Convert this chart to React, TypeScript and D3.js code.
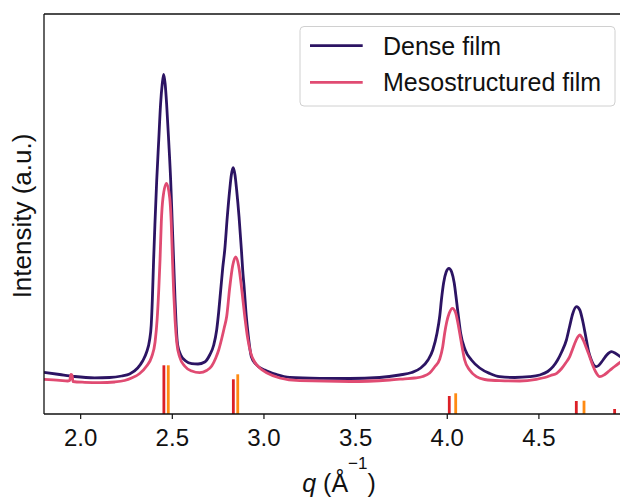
import React from "react";
import * as d3 from "d3";

// Dense film trace: q (Å^-1), intensity (a.u.)
const denseQ = [1.8, 1.885, 1.967, 2.076, 2.158, 2.224, 2.267, 2.311, 2.338, 2.36, 2.376, 2.385, 2.391, 2.398, 2.405, 2.415, 2.426, 2.436, 2.445, 2.453, 2.461, 2.469, 2.48, 2.491, 2.5, 2.507, 2.515, 2.521, 2.529, 2.546, 2.573, 2.606, 2.64, 2.677, 2.704, 2.726, 2.742, 2.753, 2.764, 2.775, 2.786, 2.8, 2.813, 2.822, 2.832, 2.842, 2.851, 2.864, 2.877, 2.884, 2.893, 2.903, 2.914, 2.931, 2.955, 3.004, 3.069, 3.14, 3.304, 3.468, 3.631, 3.74, 3.806, 3.855, 3.895, 3.921, 3.944, 3.959, 3.968, 3.98, 3.994, 4.009, 4.024, 4.038, 4.05, 4.062, 4.073, 4.098, 4.132, 4.177, 4.232, 4.286, 4.368, 4.45, 4.504, 4.548, 4.577, 4.602, 4.624, 4.65, 4.668, 4.684, 4.705, 4.723, 4.739, 4.759, 4.772, 4.786, 4.799, 4.813, 4.826, 4.848, 4.87, 4.896, 4.919, 4.946];
const denseI = [41.7, 39.5, 37.5, 36.2, 36.5, 38, 40, 46, 53, 62, 74, 89, 114, 154, 189, 234, 274, 310, 330, 339.7, 330, 310, 274, 234, 189, 154, 114, 89, 69, 59, 53, 50.4, 50, 52, 59, 69, 84, 102, 124, 146, 164, 197.3, 224, 239, 246.3, 239, 224, 197.3, 164, 144, 124, 99, 79, 57.3, 50, 44, 39.5, 36.7, 35.7, 35.5, 36.5, 39, 41.5, 46, 54, 64, 80.7, 98, 114, 131, 142, 145.7, 142, 131, 114, 96, 80.7, 64, 54, 46, 40.5, 37.3, 36.5, 37.3, 39, 42.5, 47.3, 54, 62, 74, 88, 100, 107.3, 104, 93, 74, 62, 54, 49, 47.3, 48.5, 53.5, 59, 62.3, 60.5, 57];

// Mesostructured film trace
const mesoQ = [1.8, 1.885, 1.929, 1.94, 1.947, 1.953, 1.958, 2.022, 2.104, 2.186, 2.24, 2.278, 2.322, 2.36, 2.387, 2.406, 2.417, 2.426, 2.433, 2.44, 2.449, 2.468, 2.486, 2.494, 2.501, 2.507, 2.515, 2.524, 2.54, 2.567, 2.606, 2.649, 2.687, 2.715, 2.737, 2.753, 2.769, 2.783, 2.797, 2.813, 2.829, 2.846, 2.862, 2.878, 2.895, 2.911, 2.928, 2.949, 2.977, 3.02, 3.086, 3.195, 3.468, 3.686, 3.768, 3.822, 3.866, 3.904, 3.931, 3.959, 3.975, 3.986, 3.997, 4.011, 4.028, 4.046, 4.057, 4.068, 4.082, 4.095, 4.122, 4.159, 4.204, 4.286, 4.395, 4.486, 4.532, 4.564, 4.597, 4.624, 4.646, 4.668, 4.684, 4.701, 4.712, 4.723, 4.733, 4.744, 4.761, 4.777, 4.793, 4.81, 4.832, 4.859, 4.886, 4.913, 4.946];
const mesoI = [34.7, 33.7, 33, 33.5, 39.5, 39, 32.5, 31.7, 31.3, 32, 33.5, 36, 40.5, 48, 57, 72, 94, 124, 154, 192, 216, 230.7, 216, 192, 154, 124, 94, 72, 57, 48, 43, 41.3, 43.5, 48, 56, 64, 75, 86, 98, 126, 148, 157, 148, 126, 98, 76, 61, 52, 46, 40.7, 36, 33.3, 32.5, 34, 35.2, 36, 37.5, 41, 47, 55, 67, 81, 92, 101, 105.7, 101, 92, 80.7, 66, 54, 44, 37.3, 34.5, 33.3, 33, 34.7, 36.5, 38.5, 40.7, 45.5, 51, 57.3, 65, 73, 77, 79, 77, 73, 65, 57.3, 49, 42, 37.3, 39.5, 43.5, 47.5, 52];

// Reference reflections (two phases)
const refRedQ = [2.454, 2.833, 4.011, 4.704, 4.913];
const refRedI = [48.7, 34.7, 18, 13, 5];
const refOrangeQ = [2.478, 2.857, 4.046, 4.746];
const refOrangeI = [48.7, 39.7, 20.7, 13.3];

const xTicks = [2.0, 2.5, 3.0, 3.5, 4.0, 4.5];
const seriesNames = ["Dense film", "Mesostructured film"];

const W = 620;
const H = 500;
const left = 44;
const top = 14;
const bottom = 414;
const right = 621.4;

const darkColor = "#2c1463";
const pinkColor = "#e04b72";
const redColor = "#dc2027";
const orangeColor = "#ff8a12";
const font = "'Liberation Sans', Arial, sans-serif";

export default function App() {
  const x = d3.scaleLinear().domain([1.8, 4.95]).range([left, right]);
  const y = d3.scaleLinear().domain([0, 400]).range([bottom, top]);
  const line = d3
    .line<[number, number]>()
    .x((d) => x(d[0]))
    .y((d) => y(d[1]))
    .curve(d3.curveMonotoneX);
  const dense = denseQ.map((q, i) => [q, denseI[i]] as [number, number]);
  const meso = mesoQ.map((q, i) => [q, mesoI[i]] as [number, number]);

  return (
    <svg
      width={W}
      height={H}
      style={{ position: "absolute", left: 0, top: 0, background: "#fff" }}
      fontFamily={font}
    >
      <defs>
        <clipPath id="plotclip">
          <rect x={left} y={top} width={right - left} height={bottom - top} />
        </clipPath>
      </defs>
      <rect x={0} y={0} width={W} height={H} fill="#fff" />
      <g clipPath="url(#plotclip)">
        {refRedQ.map((q, i) => (
          <rect
            key={"r" + i}
            x={x(q) - 1.4}
            y={y(refRedI[i])}
            width={2.8}
            height={bottom - y(refRedI[i])}
            fill={redColor}
          />
        ))}
        {refOrangeQ.map((q, i) => (
          <rect
            key={"o" + i}
            x={x(q) - 1.4}
            y={y(refOrangeI[i])}
            width={2.8}
            height={bottom - y(refOrangeI[i])}
            fill={orangeColor}
          />
        ))}
        <path d={line(dense) || ""} fill="none" stroke={darkColor} strokeWidth={2.8} />
        <path d={line(meso) || ""} fill="none" stroke={pinkColor} strokeWidth={2.8} />
      </g>
      {/* spines */}
      <line x1={left} y1={top} x2={left} y2={bottom} stroke="#111" strokeWidth={1.3} />
      <line x1={left} y1={bottom} x2={W} y2={bottom} stroke="#111" strokeWidth={1.3} />
      <line x1={left} y1={top} x2={W} y2={top} stroke="#111" strokeWidth={1.3} />
      {xTicks.map((t) => (
        <g key={t} transform={`translate(${x(t)},${bottom})`}>
          <line y1={0} y2={5} stroke="#111" strokeWidth={1.2} />
          <text y={32} textAnchor="middle" fontSize={24} fill="#111">
            {t.toFixed(1)}
          </text>
        </g>
      ))}
      <text x={339} y={492} textAnchor="middle" fontSize={25} fill="#111">
        <tspan fontStyle="italic">q</tspan>
        <tspan> (Å</tspan>
        <tspan fontSize={17} dy={-23}>−1</tspan>
        <tspan dy={23}>)</tspan>
      </text>
      <text
        transform={`translate(31,216) rotate(-90)`}
        textAnchor="middle"
        fontSize={26}
        fill="#111"
      >
        Intensity (a.u.)
      </text>
      {/* legend */}
      <g>
        <rect x={300} y={26.5} width={315} height={79.5} rx={4} fill="#fff" fillOpacity={0.8} stroke="#d0d0d0" strokeWidth={1} />
        <line x1={310} x2={362.7} y1={45.7} y2={45.7} stroke={darkColor} strokeWidth={2.8} />
        <line x1={310} x2={362.7} y1={82.3} y2={82.3} stroke={pinkColor} strokeWidth={2.8} />
        <text x={383} y={54.5} fontSize={25} fill="#111">{seriesNames[0]}</text>
        <text x={383} y={91} fontSize={25} fill="#111">{seriesNames[1]}</text>
      </g>
    </svg>
  );
}
